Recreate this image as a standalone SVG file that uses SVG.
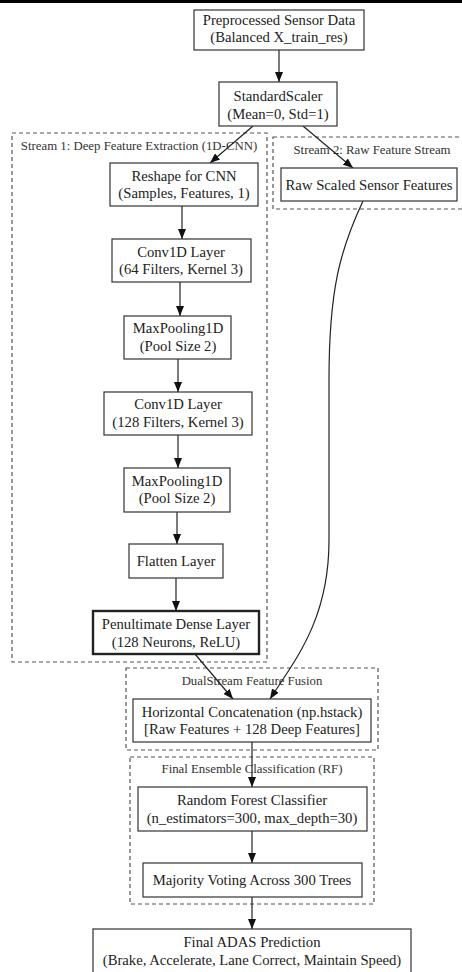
<svg xmlns="http://www.w3.org/2000/svg" width="462" height="972" viewBox="0 0 462 972">
<defs>
<marker id="ah" viewBox="0 0 10 8" refX="10" refY="4" markerWidth="10" markerHeight="8" markerUnits="userSpaceOnUse" orient="auto">
<path d="M0,0 L10,4 L0,8 Z" fill="#111"/>
</marker>
<style>
.n{fill:#fff;stroke:#333;stroke-width:1.2}
.b{fill:#fff;stroke:#222;stroke-width:2.4}
.c{fill:none;stroke:#555;stroke-width:1.2;stroke-dasharray:4,3}
.t{font-family:"Liberation Serif","Times New Roman",serif;font-size:14.7px;fill:#222;text-anchor:middle}
.l{font-family:"Liberation Serif","Times New Roman",serif;font-size:12.8px;fill:#333;text-anchor:middle}
.e{fill:none;stroke:#222;stroke-width:1.2;marker-end:url(#ah)}
</style>
</defs>
<rect x="0" y="0" width="462" height="972" fill="#fff"/>
<rect x="0" y="0" width="462" height="3" fill="#000"/>
<g id="cluster1"><rect class="c" x="12" y="133" width="255" height="529"/><text class="l" x="139" y="150">Stream 1: Deep Feature Extraction (1D-CNN)</text></g>
<g id="cluster2"><rect class="c" x="273" y="137" width="195" height="72"/><text class="l" x="372" y="154">Stream 2: Raw Feature Stream</text></g>
<g id="cluster3"><rect class="c" x="126" y="668" width="252" height="82"/><text class="l" x="252" y="685">DualStream Feature Fusion</text></g>
<g id="cluster4"><rect class="c" x="130" y="757" width="244" height="147"/><text class="l" x="252" y="773">Final Ensemble Classification (RF)</text></g>
<g id="connectors">
<path class="e" d="M279,50 L279,82"/>
<path class="e" d="M253,126 L210,163"/>
<path class="e" d="M303,126 L353,168"/>
<path class="e" d="M182,206 L182,239"/>
<path class="e" d="M180,282 L180,316"/>
<path class="e" d="M178,359 L178,392"/>
<path class="e" d="M178,435 L178,468"/>
<path class="e" d="M177,512 L177,544"/>
<path class="e" d="M176,578 L176,611"/>
<path class="e" d="M195,654 L233,699"/>
<path class="e" d="M363,201 C340,250 329,290 329,380 L329,540 C329,620 295,660 270,699"/>
<path class="e" d="M252,742 L252,787"/>
<path class="e" d="M252,831 L252,863"/>
<path class="e" d="M252,897 L252,929"/>
</g>
<g id="preprocessed"><rect class="n" x="194" y="10" width="170" height="40"/><text class="t" x="279" y="25">Preprocessed Sensor Data</text><text class="t" x="279" y="42">(Balanced X_train_res)</text></g>
<g id="scaler"><rect class="n" x="219" y="82" width="118" height="44"/><text class="t" x="278" y="101">StandardScaler</text><text class="t" x="278" y="119">(Mean=0, Std=1)</text></g>
<g id="reshape"><rect class="n" x="110" y="163" width="148" height="43"/><text class="t" x="184" y="181">Reshape for CNN</text><text class="t" x="184" y="198">(Samples, Features, 1)</text></g>
<g id="raw"><rect class="n" x="281" y="168" width="176" height="33"/><text class="t" x="369" y="190">Raw Scaled Sensor Features</text></g>
<g id="conv1"><rect class="n" x="112" y="239" width="139" height="43"/><text class="t" x="181" y="257">Conv1D Layer</text><text class="t" x="181" y="274">(64 Filters, Kernel 3)</text></g>
<g id="pool1"><rect class="n" x="124" y="316" width="107" height="43"/><text class="t" x="178" y="333">MaxPooling1D</text><text class="t" x="178" y="351">(Pool Size 2)</text></g>
<g id="conv2"><rect class="n" x="104" y="392" width="148" height="43"/><text class="t" x="178" y="409">Conv1D Layer</text><text class="t" x="178" y="427">(128 Filters, Kernel 3)</text></g>
<g id="pool2"><rect class="n" x="124" y="468" width="106" height="44"/><text class="t" x="177" y="486">MaxPooling1D</text><text class="t" x="177" y="503">(Pool Size 2)</text></g>
<g id="flatten"><rect class="n" x="129" y="544" width="94" height="34"/><text class="t" x="176" y="566">Flatten Layer</text></g>
<g id="dense"><rect class="b" x="93" y="611" width="166" height="43"/><text class="t" x="176" y="629">Penultimate Dense Layer</text><text class="t" x="176" y="647">(128 Neurons, ReLU)</text></g>
<g id="concat"><rect class="n" x="133" y="699" width="238" height="43"/><text class="t" x="252" y="717">Horizontal Concatenation (np.hstack)</text><text class="t" x="252" y="734">[Raw Features + 128 Deep Features]</text></g>
<g id="rf"><rect class="n" x="138" y="787" width="229" height="44"/><text class="t" x="252" y="805">Random Forest Classifier</text><text class="t" x="252" y="823">(n_estimators=300, max_depth=30)</text></g>
<g id="voting"><rect class="n" x="143" y="863" width="219" height="34"/><text class="t" x="252" y="885">Majority Voting Across 300 Trees</text></g>
<g id="final"><rect class="n" x="93" y="929" width="318" height="48"/><text class="t" x="252" y="947">Final ADAS Prediction</text><text class="t" x="252" y="965">(Brake, Accelerate, Lane Correct, Maintain Speed)</text></g>
</svg>
